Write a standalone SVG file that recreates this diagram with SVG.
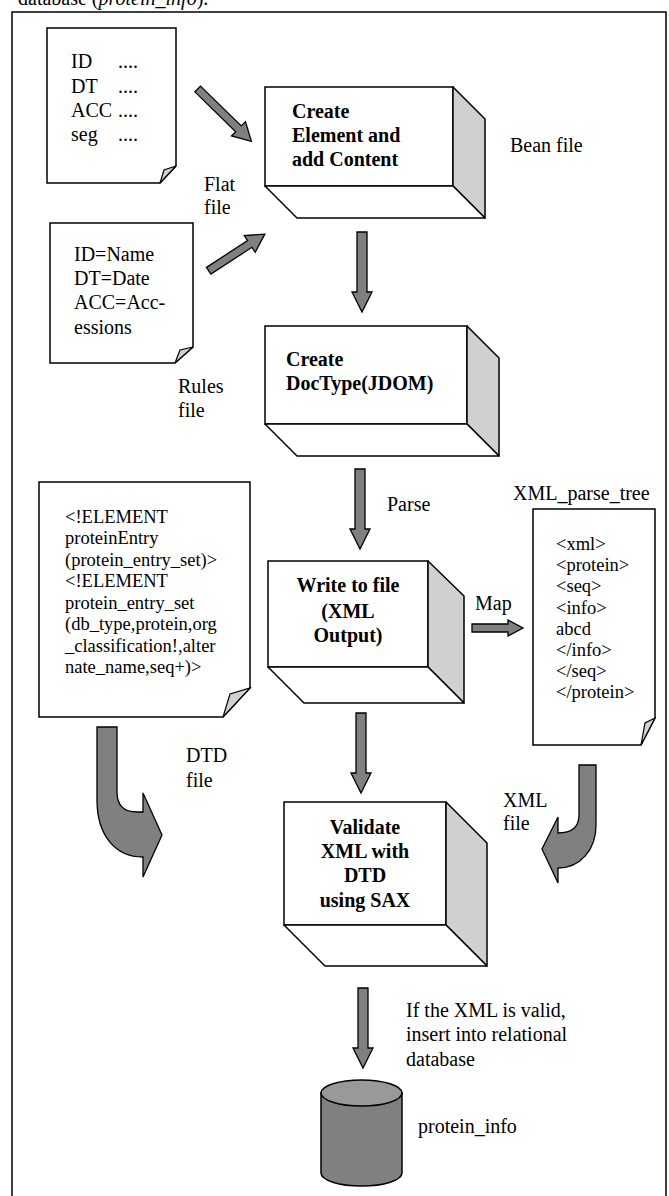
<svg xmlns="http://www.w3.org/2000/svg" width="669" height="1196" viewBox="0 0 669 1196">
<style>
text{font-family:"Liberation Serif","Times New Roman",serif;fill:#000}
.lbl{font-size:20px}
.doc{font-size:20px}
.sm{font-size:18.5px}
.bold{font-size:20px;font-weight:bold}
.paper{fill:#fff;stroke:#000;stroke-width:1.5}
.flap{fill:#d0d0d0;stroke:#000;stroke-width:1.2}
.front{fill:#fff;stroke:#000;stroke-width:1.5}
.side{fill:#d0d0d0;stroke:#000;stroke-width:1.5;stroke-linejoin:round}
.bot{fill:#fff;stroke:#000;stroke-width:1.5;stroke-linejoin:round}
.arr{fill:#808080;stroke:#000;stroke-width:1.3;stroke-linejoin:miter}
</style>
<defs>
<polygon id="down80" points="-5,0 5,0 5,60 10,60 0,80 -10,60 -5,60"/>
</defs>
<text class="lbl" x="18" y="5">database (<tspan font-style="italic">protein_info</tspan>).</text>
<rect x="12" y="12" width="654" height="1200" fill="none" stroke="#000" stroke-width="1.5"/>

<g id="flat-file">
<path class="paper" d="M47,28 H176 V166 L160,183 H47 Z"/>
<path class="flap" d="M160,183 L176,166 L164,170 Z"/>
<text class="doc" x="71" y="68">ID</text><text class="doc" x="118" y="68">....</text>
<text class="doc" x="71" y="93">DT</text><text class="doc" x="118" y="93">....</text>
<text class="doc" x="71" y="117">ACC</text><text class="doc" x="118" y="117">....</text>
<text class="doc" x="71" y="141">seg</text><text class="doc" x="118" y="141">....</text>
<text class="lbl" x="204" y="191">Flat</text>
<text class="lbl" x="204" y="214">file</text>
</g>

<g id="rules-file">
<path class="paper" d="M50,223 H193 V347 L175,363 H50 Z"/>
<path class="flap" d="M175,363 L193,347 L180,350 Z"/>
<text class="doc" x="74" y="261">ID=Name</text>
<text class="doc" x="74" y="285">DT=Date</text>
<text class="doc" x="74" y="309">ACC=Acc-</text>
<text class="doc" x="74" y="334">essions</text>
<text class="lbl" x="178" y="393">Rules</text>
<text class="lbl" x="178" y="417">file</text>
</g>

<g id="create-element">
<rect class="front" x="265" y="87" width="188" height="99"/>
<polygon class="side" points="453,87 485,119 485,218 453,186"/>
<polygon class="bot" points="265,186 297,218 485,218 453,186"/>
<text class="bold" x="292" y="118">Create</text>
<text class="bold" x="292" y="142">Element and</text>
<text class="bold" x="292" y="166">add Content</text>
<text class="lbl" x="510" y="152">Bean file</text>
</g>

<g id="create-doctype">
<rect class="front" x="265" y="326" width="202" height="98"/>
<polygon class="side" points="467,326 499,358 499,456 467,424"/>
<polygon class="bot" points="265,424 297,456 499,456 467,424"/>
<text class="bold" x="286" y="366">Create</text>
<text class="bold" x="286" y="390">DocType(JDOM)</text>
</g>

<g id="dtd-file">
<path class="paper" d="M39,482 H250 V688 L223,717 H39 Z"/>
<path class="flap" d="M223,717 L250,688 L230,694 Z"/>
<text class="sm" x="65" y="523">&lt;!ELEMENT</text>
<text class="sm" x="65" y="544">proteinEntry</text>
<text class="sm" x="65" y="566">(protein_entry_set)&gt;</text>
<text class="sm" x="65" y="587">&lt;!ELEMENT</text>
<text class="sm" x="65" y="609">protein_entry_set</text>
<text class="sm" x="65" y="630">(db_type,protein,org</text>
<text class="sm" x="65" y="652">_classification!,alter</text>
<text class="sm" x="65" y="673">nate_name,seq+)&gt;</text>
<text class="lbl" x="186" y="762">DTD</text>
<text class="lbl" x="186" y="787">file</text>
</g>

<g id="write-xml">
<rect class="front" x="268" y="561" width="160" height="106"/>
<polygon class="side" points="428,561 464,596 464,703 428,667"/>
<polygon class="bot" points="268,667 304,703 464,703 428,667"/>
<text class="bold" x="348" y="592" text-anchor="middle">Write to file</text>
<text class="bold" x="348" y="618" text-anchor="middle">(XML</text>
<text class="bold" x="348" y="642" text-anchor="middle">Output)</text>
</g>

<g id="xml-parse-tree">
<text class="lbl" x="513" y="500">XML_parse_tree</text>
<path class="paper" d="M533,509 H655 V718 L641,745 H533 Z"/>
<path class="flap" d="M641,745 L655,718 L645,723 Z"/>
<text class="sm" x="556" y="550">&lt;xml&gt;</text>
<text class="sm" x="556" y="571">&lt;protein&gt;</text>
<text class="sm" x="556" y="592">&lt;seq&gt;</text>
<text class="sm" x="556" y="614">&lt;info&gt;</text>
<text class="sm" x="556" y="635">abcd</text>
<text class="sm" x="556" y="656">&lt;/info&gt;</text>
<text class="sm" x="556" y="677">&lt;/seq&gt;</text>
<text class="sm" x="556" y="698">&lt;/protein&gt;</text>
<text class="lbl" x="503" y="807">XML</text>
<text class="lbl" x="503" y="830">file</text>
</g>

<g id="validate">
<rect class="front" x="284" y="802" width="162" height="123"/>
<polygon class="side" points="446,802 487,843 487,966 446,925"/>
<polygon class="bot" points="284,925 325,966 487,966 446,925"/>
<text class="bold" x="365" y="834" text-anchor="middle">Validate</text>
<text class="bold" x="365" y="858" text-anchor="middle">XML with</text>
<text class="bold" x="365" y="882" text-anchor="middle">DTD</text>
<text class="bold" x="365" y="907" text-anchor="middle">using SAX</text>
</g>

<g id="protein-info">
<path d="M321,1093 V1173 A40.5,13 0 0 0 402,1173 V1093 Z" fill="#808080" stroke="#000" stroke-width="1.5"/>
<ellipse cx="361.5" cy="1093" rx="40.5" ry="13" fill="#999" stroke="#000" stroke-width="1.5"/>
<text class="lbl" x="418" y="1133">protein_info</text>
</g>

<g id="connectors">
<polygon class="arr" transform="translate(197.7,89) rotate(44.3)" points="0,-4 57,-4 57,-10 75,0 57,10 57,4 0,4"/>
<polygon class="arr" transform="translate(208.7,270.7) rotate(-33.1)" points="0,-4 49,-4 49,-10 67,0 49,10 49,4 0,4"/>
<use href="#down80" class="arr" x="362" y="232"/>
<use href="#down80" class="arr" x="360" y="469"/>
<text class="lbl" x="387" y="511">Parse</text>
<polygon class="arr" points="472,624 508,624 508,620 523,628 508,636 508,632 472,632"/>
<text class="lbl" x="475" y="610">Map</text>
<use href="#down80" class="arr" x="361" y="713"/>
<path class="arr" d="M97,727 L117,727 L117,792 Q117,812 137,812 L143,812 L143,793 L162,835 L143,877 L143,857 C115,857 97,835 97,800 Z"/>
<path class="arr" d="M579,765 L596,765 L596,825 C596,850 580,868 558,868 L558,883 L542,849 L558,817 L558,833 Q579,833 579,815 Z"/>
<use href="#down80" class="arr" x="363" y="988"/>
<text class="lbl" x="406" y="1017">If the XML is valid,</text>
<text class="lbl" x="406" y="1041">insert into relational</text>
<text class="lbl" x="406" y="1066">database</text>
</g>
</svg>
